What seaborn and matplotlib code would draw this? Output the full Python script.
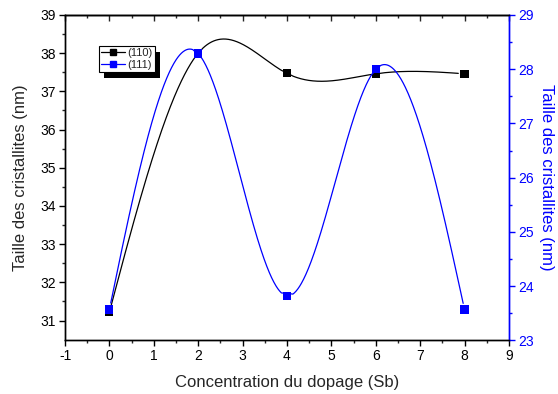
import numpy as np
import pandas as pd
import matplotlib
matplotlib.use("Agg")
import matplotlib.pyplot as plt
from matplotlib.lines import Line2D
from matplotlib.patches import Rectangle
import seaborn as sns

# ---- data ----
conc = [0, 2, 4, 6, 8]
size_110 = [31.22, 38.0, 37.47, 37.46, 37.46]
size_111 = [23.57, 28.29, 23.82, 28.0, 23.57]
labels = ["(110)", "(111)"]
xlabel = "Concentration du dopage (Sb)"
ylabel = "Taille des cristallites (nm)"

sns.set_theme(style="ticks")
plt.rcParams['font.family'] = ['Liberation Sans', 'DejaVu Sans']
plt.rcParams['axes.unicode_minus'] = False


def natural_spline(x, y, xs):
    x = np.asarray(x, float); y = np.asarray(y, float)
    n = len(x)
    h = np.diff(x)
    A = np.zeros((n, n)); b = np.zeros(n)
    A[0, 0] = A[-1, -1] = 1
    for i in range(1, n - 1):
        A[i, i - 1] = h[i - 1]; A[i, i] = 2 * (h[i - 1] + h[i]); A[i, i + 1] = h[i]
        b[i] = 3 * ((y[i + 1] - y[i]) / h[i] - (y[i] - y[i - 1]) / h[i - 1])
    c = np.linalg.solve(A, b)
    out = np.empty_like(xs)
    for k, t in enumerate(xs):
        i = min(max(np.searchsorted(x, t) - 1, 0), n - 2)
        dx = t - x[i]
        bb = (y[i + 1] - y[i]) / h[i] - h[i] * (2 * c[i] + c[i + 1]) / 3
        d = (c[i + 1] - c[i]) / (3 * h[i])
        out[k] = y[i] + bb * dx + c[i] * dx ** 2 + d * dx ** 3
    return out


def gapped(x, y, xs, ys, sx, sy, r=6.0):
    ys = ys.copy()
    for xi, yi in zip(x, y):
        dist = np.hypot((xs - xi) * sx, (ys - yi) * sy)
        ys[dist < r] = np.nan
    return ys


fig = plt.figure(figsize=(5.58, 3.94), dpi=100)
ax = fig.add_axes([0.1165, 0.136, 0.7955, 0.826])
ax2 = ax.twinx()

xs = np.linspace(0, 8, 800)
y1 = natural_spline(conc, size_110, xs)
y2 = natural_spline(conc, size_111, xs)
y1g = gapped(conc, size_110, xs, y1, 44.4, 38.25)
y2g = gapped(conc, size_111, xs, y2, 44.4, 54.2)

sns.lineplot(x=xs, y=y1g, ax=ax, color="black", linewidth=0.9, sort=False)
sns.scatterplot(x=conc, y=size_110, ax=ax, color="black", marker="s", s=34,
                edgecolor="none", zorder=3)
sns.lineplot(x=xs, y=y2g, ax=ax2, color="blue", linewidth=0.9, sort=False)
sns.scatterplot(x=conc, y=size_111, ax=ax2, color="blue", marker="s", s=34,
                edgecolor="none", zorder=3)

ax.set_xlim(-1, 9)
ax.set_ylim(30.48, 39)
ax2.set_ylim(23, 29)
ax.set_xticks(range(-1, 10))
ax.set_yticks(range(31, 40))
ax.set_xticks(np.arange(-1, 9.01, 0.5), minor=True)
ax.set_yticks(np.arange(31, 39.01, 0.5), minor=True)
ax2.set_yticks(range(23, 30))
ax2.set_yticks(np.arange(23, 29.01, 0.5), minor=True)

for a in (ax, ax2):
    for s in a.spines.values():
        s.set_linewidth(1.0)
        s.set_color("black")
    a.spines['top'].set_visible(True)
    a.spines['right'].set_visible(True)
ax2.spines['right'].set_color("blue")
ax.spines['right'].set_color("blue")

ax.tick_params(axis='both', which='major', direction='out', length=4.5, width=1,
               labelsize=10, colors="black", pad=2)
ax.tick_params(axis='both', which='minor', direction='out', length=2.2, width=1)
ax.xaxis.set_tick_params(which='both', top=False)
top = ax.secondary_xaxis('top')
top.set_xticks(range(-1, 10))
top.set_xticks(np.arange(-1, 9.01, 0.5), minor=True)
top.tick_params(which='major', direction='in', length=4.5, width=1, labeltop=False)
top.tick_params(which='minor', direction='in', length=2.5, width=1)
top.spines['top'].set_linewidth(1.0)

ax2.tick_params(axis='y', which='major', direction='out', length=4, width=1,
                labelsize=10, colors="blue", pad=2.5)
ax2.tick_params(axis='y', which='minor', direction='out', length=2.2, width=1, colors="blue")

ax.set_xlabel(xlabel, fontsize=12, labelpad=8)
ax.set_ylabel(ylabel, fontsize=12, labelpad=9)
ax2.set_ylabel(ylabel, fontsize=12, color="blue", rotation=270, labelpad=15)

handles = [Line2D([], [], color="black", marker="s", markersize=5, linewidth=0.9),
           Line2D([], [], color="blue", marker="s", markersize=5, linewidth=0.9)]
leg = ax.legend(handles, labels, loc="upper left", bbox_to_anchor=(0.0755, 0.905),
                borderaxespad=0, fontsize=8, frameon=True, fancybox=False,
                shadow=False, handlelength=2.2,
                handletextpad=0.2, borderpad=0.2, labelspacing=0.15)
leg.get_frame().set_edgecolor("black")
leg.get_frame().set_linewidth(0.8)
leg.get_frame().set_alpha(1)
leg.set_zorder(5)

fig.canvas.draw()
bb = leg.get_window_extent()
shadow = Rectangle((bb.x0 + 5, bb.y0 - 6), bb.width, bb.height, transform=None,
                   facecolor="black", edgecolor="none", zorder=4)
ax.add_artist(shadow)

fig.savefig("out.png", dpi=100)
